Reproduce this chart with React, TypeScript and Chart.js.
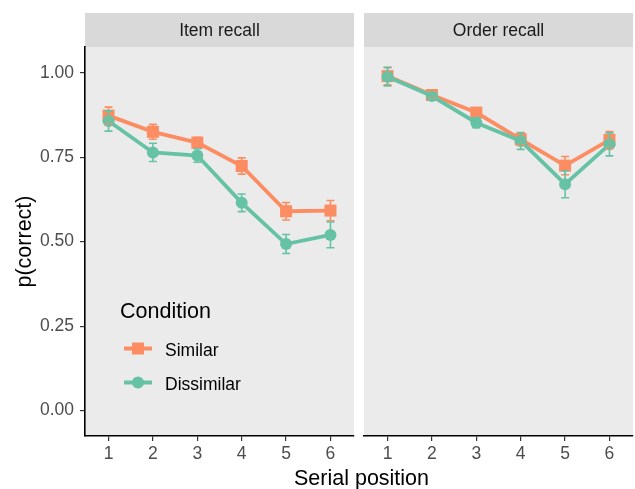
import React, { useEffect, useRef } from "react";
import { Chart, registerables } from "chart.js";

Chart.register(...registerables);

// ---------- data ----------
const positions = [1, 2, 3, 4, 5, 6];
const panelTitles = ["Item recall", "Order recall"];
const seriesNames = ["Similar", "Dissimilar"];
const legendTitle = "Condition";
const xTitle = "Serial position";
const yTitle = "p(correct)";
const yTicks = [0, 0.25, 0.5, 0.75, 1.0];

const itemSimilar = [0.873, 0.825, 0.793, 0.724, 0.590, 0.592];
const itemSimilarErr = [0.025, 0.022, 0.016, 0.024, 0.026, 0.030];
const itemDissimilar = [0.857, 0.764, 0.755, 0.615, 0.493, 0.520];
const itemDissimilarErr = [0.030, 0.027, 0.020, 0.026, 0.028, 0.038];

const orderSimilar = [0.990, 0.934, 0.882, 0.803, 0.725, 0.801];
const orderSimilarErr = [0.026, 0.010, 0.012, 0.018, 0.027, 0.025];
const orderDissimilar = [0.988, 0.931, 0.852, 0.798, 0.670, 0.788];
const orderDissimilarErr = [0.027, 0.010, 0.015, 0.025, 0.040, 0.034];

// ---------- style ----------
const ORANGE = "#FC8D62";
const GREEN = "#66C2A5";
const FAMILY = "'Liberation Sans', Arial, Helvetica, sans-serif";
const X_MIN = 0.47;
const X_MAX = 6.53;
const Y_MIN = -0.075;
const Y_MAX = 1.076;

const panelPlugin = (title: string) => ({
  id: "panelStrip",
  beforeDraw(chart: any) {
    const { ctx, chartArea } = chart;
    const { left, right, top, bottom } = chartArea;
    ctx.save();
    ctx.fillStyle = "#EBEBEB";
    ctx.fillRect(left, top, right - left, bottom - top);
    ctx.fillStyle = "#D9D9D9";
    ctx.fillRect(left, 13, right - left, top - 13);
    ctx.fillStyle = "#1A1A1A";
    ctx.font = `17.5px ${FAMILY}`;
    ctx.textAlign = "center";
    ctx.textBaseline = "alphabetic";
    ctx.fillText(title, (left + right) / 2, 36);
    ctx.restore();
  },
});

const errorBarPlugin = {
  id: "errorBars",
  afterDatasetsDraw(chart: any) {
    const { ctx } = chart;
    const yScale = chart.scales.y;
    ctx.save();
    chart.data.datasets.forEach((ds: any, i: number) => {
      const meta = chart.getDatasetMeta(i);
      ctx.strokeStyle = ds.borderColor;
      ctx.lineWidth = 1.6;
      meta.data.forEach((pt: any, j: number) => {
        const v = ds.data[j].y;
        const e = ds.errors[j];
        const x = pt.x;
        const yt = yScale.getPixelForValue(v + e);
        const yb = yScale.getPixelForValue(v - e);
        ctx.beginPath();
        ctx.moveTo(x, yt);
        ctx.lineTo(x, yb);
        ctx.moveTo(x - 4, yt);
        ctx.lineTo(x + 4, yt);
        ctx.moveTo(x - 4, yb);
        ctx.lineTo(x + 4, yb);
        ctx.stroke();
      });
    });
    ctx.restore();
  },
};

const legendPlugin = {
  id: "insideLegend",
  afterDraw(chart: any) {
    const { ctx } = chart;
    ctx.save();
    ctx.fillStyle = "#000";
    ctx.font = `21.5px ${FAMILY}`;
    ctx.textAlign = "left";
    ctx.textBaseline = "alphabetic";
    ctx.fillText(legendTitle, 120, 318);
    const rows = [348.5, 382.5];
    chart.data.datasets.forEach((ds: any, i: number) => {
      const y = rows[i];
      ctx.strokeStyle = ds.borderColor;
      ctx.lineWidth = 4;
      ctx.beginPath();
      ctx.moveTo(124, y);
      ctx.lineTo(152, y);
      ctx.stroke();
      ctx.fillStyle = ds.backgroundColor;
      if (ds.pointStyle === "rect") {
        ctx.fillRect(138 - 6, y - 6, 12, 12);
      } else {
        ctx.beginPath();
        ctx.arc(138, y, 6, 0, Math.PI * 2);
        ctx.fill();
      }
      ctx.fillStyle = "#000";
      ctx.font = `17.5px ${FAMILY}`;
      ctx.fillText(seriesNames[i], 165, y + 7);
    });
    ctx.fillStyle = "#000";
    ctx.font = `21.5px ${FAMILY}`;
    ctx.textAlign = "center";
    ctx.fillText(xTitle, 361.5, 485);
    ctx.restore();
  },
};

function makeConfig(
  panelIdx: number,
  simVals: number[],
  simErr: number[],
  disVals: number[],
  disErr: number[],
  isLeft: boolean
): any {
  const mk = (vals: number[]) => positions.map((p, i) => ({ x: p, y: vals[i] }));
  return {
    type: "line",
    data: {
      datasets: [
        {
          label: seriesNames[0],
          data: mk(simVals),
          errors: simErr,
          borderColor: ORANGE,
          backgroundColor: ORANGE,
          pointBackgroundColor: ORANGE,
          pointStyle: "rect",
          pointRadius: 8.5,
          pointBorderWidth: 0,
          borderWidth: 3.8,
          order: 1,
          clip: false,
        },
        {
          label: seriesNames[1],
          data: mk(disVals),
          errors: disErr,
          borderColor: GREEN,
          backgroundColor: GREEN,
          pointBackgroundColor: GREEN,
          pointStyle: "circle",
          pointRadius: 6,
          pointBorderWidth: 0,
          borderWidth: 3.8,
          order: 0,
          clip: false,
        },
      ],
    },
    options: {
      animation: false,
      responsive: false,
      events: [],
      layout: {
        autoPadding: false,
        padding: isLeft
          ? { left: 0, top: 47, right: 281, bottom: 0 }
          : { left: 5, top: 47, right: 2, bottom: 0 },
      },
      plugins: {
        legend: { display: false },
        tooltip: { enabled: false },
      },
      scales: {
        x: {
          type: "linear",
          min: X_MIN,
          max: X_MAX,
          afterBuildTicks: (s: any) => {
            s.ticks = positions.map((v) => ({ value: v }));
          },
          afterFit: (s: any) => {
            s.height = 53;
            s.paddingLeft = 0;
            s.paddingRight = 0;
          },
          grid: {
            drawOnChartArea: false,
            drawTicks: true,
            tickLength: 5,
            color: "#333333",
            lineWidth: 1.2,
          },
          border: { display: true, color: "#000000", width: 1.6 },
          ticks: {
            color: "#4D4D4D",
            font: { size: 17.5, family: FAMILY },
            padding: 3,
            maxRotation: 0,
            autoSkip: false,
            callback: (v: any) => String(v),
          },
        },
        y: {
          display: isLeft,
          min: Y_MIN,
          max: Y_MAX,
          afterBuildTicks: (s: any) => {
            s.ticks = yTicks.map((v) => ({ value: v }));
          },
          afterFit: (s: any) => {
            s.width = isLeft ? 85 : 0;
            s.paddingTop = 0;
            s.paddingBottom = 0;
          },
          grid: {
            drawOnChartArea: false,
            drawTicks: true,
            tickLength: 5,
            color: "#333333",
            lineWidth: 1.2,
          },
          border: { display: true, color: "#000000", width: 1.6 },
          ticks: {
            color: "#4D4D4D",
            font: { size: 17.5, family: FAMILY },
            padding: 6,
            callback: (v: any) => Number(v).toFixed(2),
          },
          title: {
            display: true,
            text: yTitle,
            color: "#000000",
            font: { size: 21.5, family: FAMILY },
            padding: { top: 12, bottom: 0 },
          },
        },
      },
    },
    plugins: isLeft
      ? [panelPlugin(panelTitles[panelIdx]), errorBarPlugin, legendPlugin]
      : [panelPlugin(panelTitles[panelIdx]), errorBarPlugin],
  };
}

export default function App() {
  const leftRef = useRef<HTMLCanvasElement | null>(null);
  const rightRef = useRef<HTMLCanvasElement | null>(null);

  useEffect(() => {
    const c1 = new Chart(
      leftRef.current as HTMLCanvasElement,
      makeConfig(0, itemSimilar, itemSimilarErr, itemDissimilar, itemDissimilarErr, true)
    );
    const c2 = new Chart(
      rightRef.current as HTMLCanvasElement,
      makeConfig(1, orderSimilar, orderSimilarErr, orderDissimilar, orderDissimilarErr, false)
    );
    return () => {
      c1.destroy();
      c2.destroy();
    };
  }, []);

  return (
    <div
      style={{
        position: "fixed",
        left: 0,
        top: 0,
        width: 635,
        height: 489,
        background: "#ffffff",
      }}
    >
      <canvas
        ref={leftRef}
        width={635}
        height={489}
        style={{ position: "absolute", left: 0, top: 0, width: 635, height: 489 }}
      />
      <canvas
        ref={rightRef}
        width={276}
        height={489}
        style={{ position: "absolute", left: 359, top: 0, width: 276, height: 489 }}
      />
    </div>
  );
}
